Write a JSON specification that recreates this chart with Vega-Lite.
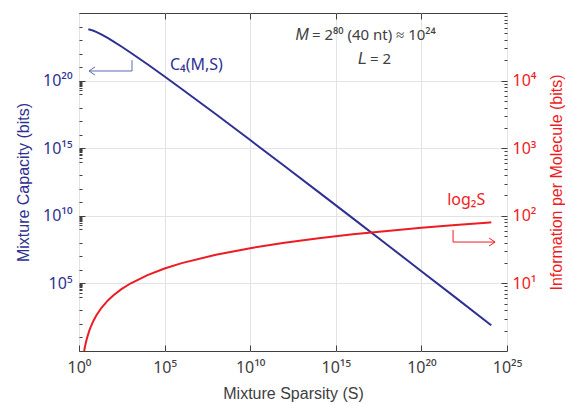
{
  "$schema": "https://vega.github.io/schema/vega-lite/v6.json",
  "width": 428,
  "height": 338,
  "autosize": "none",
  "padding": {"left": 79, "top": 13, "right": 59, "bottom": 52},
  "background": "white",
  "config": {
    "font": "Liberation Sans",
    "view": {"stroke": "#404040", "strokeWidth": 1},
    "axis": {
      "domain": false,
      "labelFont": "Noto Sans",
      "titleFont": "Liberation Sans",
      "labelFontSize": 16,
      "titleFontSize": 16,
      "titleFontWeight": "normal",
      "tickColor": "#404040",
      "gridColor": "#e3e3e3",
      "labelOverlap": false,
      "labelFlush": false,
      "labelBound": false
    }
  },
  "datasets": {
    "cap": [
      {"S": 3.5, "C": 6.243e23},
      {"S": 4, "C": 6.0445e23},
      {"S": 5, "C": 5.614e23},
      {"S": 7, "C": 4.848e23},
      {"S": 10, "C": 4.016e23},
      {"S": 20, "C": 2.612e23},
      {"S": 50, "C": 1.3646e23},
      {"S": 100, "C": 8.032e22},
      {"S": 300, "C": 3.316e22},
      {"S": 1000, "C": 1.2048e22},
      {"S": 1e4, "C": 1.6064e21},
      {"S": 1e5, "C": 2.008e20},
      {"S": 1e6, "C": 2.4095e19},
      {"S": 1e8, "C": 3.2127e17},
      {"S": 1e10, "C": 4.0159e15},
      {"S": 1e12, "C": 4.819e13},
      {"S": 1e14, "C": 5.622e11},
      {"S": 1e16, "C": 6.4255e9},
      {"S": 1e18, "C": 7.2286e7},
      {"S": 1e20, "C": 8.032e5},
      {"S": 1e22, "C": 8834.9},
      {"S": 1e24, "C": 96.38},
      {"S": 1.2089e24, "C": 80}
    ],
    "info": [
      {"S": 2, "I": 1},
      {"S": 2.2, "I": 1.1375},
      {"S": 2.5, "I": 1.3219},
      {"S": 3, "I": 1.585},
      {"S": 4, "I": 2},
      {"S": 5, "I": 2.3219},
      {"S": 7, "I": 2.8074},
      {"S": 10, "I": 3.3219},
      {"S": 20, "I": 4.3219},
      {"S": 50, "I": 5.6439},
      {"S": 100, "I": 6.6439},
      {"S": 300, "I": 8.2288},
      {"S": 1000, "I": 9.9658},
      {"S": 1e4, "I": 13.2877},
      {"S": 1e5, "I": 16.6096},
      {"S": 1e6, "I": 19.9316},
      {"S": 1e8, "I": 26.575},
      {"S": 1e10, "I": 33.219},
      {"S": 1e12, "I": 39.863},
      {"S": 1e14, "I": 46.507},
      {"S": 1e16, "I": 53.151},
      {"S": 1e18, "I": 59.795},
      {"S": 1e20, "I": 66.439},
      {"S": 1e22, "I": 73.082},
      {"S": 1e24, "I": 79.726},
      {"S": 1.2089e24, "I": 80}
    ],
    "arrowL": [
      {"seg": "a", "o": 1, "S": 3.837, "C": 5.13e20},
      {"seg": "a", "o": 2, "S": 1247, "C": 5.13e20},
      {"seg": "a", "o": 3, "S": 1247, "C": 3.31e21},
      {"seg": "b", "o": 1, "S": 8.61, "C": 1.023e21},
      {"seg": "b", "o": 2, "S": 3.837, "C": 5.13e20},
      {"seg": "b", "o": 3, "S": 8.61, "C": 2.57e20}
    ],
    "arrowR": [
      {"seg": "a", "o": 1, "S": 7.08e21, "I": 61.6},
      {"seg": "a", "o": 2, "S": 7.08e21, "I": 40.9},
      {"seg": "a", "o": 3, "S": 2.0e24, "I": 40.9},
      {"seg": "b", "o": 1, "S": 8.91e23, "I": 46.9},
      {"seg": "b", "o": 2, "S": 2.0e24, "I": 40.9},
      {"seg": "b", "o": 3, "S": 8.91e23, "I": 35.7}
    ],
    "textL": [
      {"S": 2.07e5, "C": 6e20, "label": "C₄(M,S)"}
    ],
    "paramNorm": [
      {"S": 4.05e13, "C": 1e23, "label": "\u00a0= 2⁸⁰ (40 nt) ≈ 10²⁴"},
      {"S": 9.9e16, "C": 1.7e21, "label": "\u00a0= 2"}
    ],
    "paramItal": [
      {"S": 2.7e13, "C": 1e23, "label": "M"},
      {"S": 6.6e16, "C": 1.7e21, "label": "L"}
    ],
    "textR": [
      {"S": 3.2e21, "I": 144.5, "label": "log₂S"}
    ]
  },
  "resolve": {"scale": {"y": "independent"}, "axis": {"x": "independent", "y": "independent"}},
  "layer": [
    {
      "layer": [
        {
          "data": {"name": "cap"},
          "mark": {"type": "line", "color": "#2e3192", "strokeWidth": 2, "clip": true},
          "encoding": {
            "x": {
              "field": "S", "type": "quantitative",
              "scale": {"type": "log", "domain": [1, 1e25], "nice": false},
              "axis": {
                "orient": "bottom",
                "title": "Mixture Sparsity (S)",
                "titleColor": "#404040",
                "titlePadding": 10,
                "labelColor": "#404040",
                "values": [1, 1e5, 1e10, 1e15, 1e20, 1e25],
                "labelExpr": "['10⁰','10⁵','10¹⁰','10¹⁵','10²⁰','10²⁵'][round(log(datum.value)/LN10/5)]",
                "tickSize": -6,
                "labelPadding": 14,
                "grid": true
              }
            },
            "y": {
              "field": "C", "type": "quantitative",
              "scale": {"type": "log", "domain": [1, 1e25], "nice": false},
              "axis": {
                "orient": "left",
                "title": "Mixture Capacity (bits)",
                "titleColor": "#2e3192",
                "labelColor": "#2e3192",
                "titlePadding": 11,
                "values": [1, 10, 100, 1000, 1e4, 2e4, 3e4, 4e4, 5e4, 6e4, 7e4, 8e4, 9e4, 1e5, 1e6, 1e7, 1e8, 1e9, 2e9, 3e9, 4e9, 5e9, 6e9, 7e9, 8e9, 9e9, 1e10, 1e11, 1e12, 1e13, 1e14, 2e14, 3e14, 4e14, 5e14, 6e14, 7e14, 8e14, 9e14, 1e15, 1e16, 1e17, 1e18, 1e19, 2e19, 3e19, 4e19, 5e19, 6e19, 7e19, 8e19, 9e19, 1e20, 1e21, 1e22, 1e23, 1e24, 1e25],
                "labelExpr": "indexof([1e5,1e10,1e15,1e20], datum.value) >= 0 ? ['10⁵','10¹⁰','10¹⁵','10²⁰'][indexof([1e5,1e10,1e15,1e20], datum.value)] : ''",
                "tickSize": {"condition": {"test": "indexof([1e5,1e10,1e15,1e20], datum.value) >= 0", "value": -6}, "value": -3},
                "labelPadding": 13,
                "grid": true,
                "gridOpacity": {"condition": {"test": "indexof([1e5,1e10,1e15,1e20], datum.value) >= 0", "value": 1}, "value": 0}
              }
            }
          }
        },
        {
          "data": {"name": "arrowL"},
          "mark": {"type": "line", "color": "#5b6bb0", "strokeWidth": 1},
          "encoding": {
            "x": {"field": "S", "type": "quantitative"},
            "y": {"field": "C", "type": "quantitative"},
            "detail": {"field": "seg"},
            "order": {"field": "o"}
          }
        },
        {
          "data": {"name": "textL"},
          "mark": {"type": "text", "color": "#2e3192", "fontSize": 16, "align": "left", "baseline": "alphabetic", "font": "Noto Sans"},
          "encoding": {
            "x": {"field": "S", "type": "quantitative"},
            "y": {"field": "C", "type": "quantitative"},
            "text": {"field": "label"}
          }
        },
        {
          "data": {"name": "paramNorm"},
          "mark": {"type": "text", "color": "#404040", "fontSize": 15, "align": "left", "baseline": "alphabetic", "font": "Noto Sans"},
          "encoding": {
            "x": {"field": "S", "type": "quantitative"},
            "y": {"field": "C", "type": "quantitative"},
            "text": {"field": "label"}
          }
        },
        {
          "data": {"name": "paramItal"},
          "mark": {"type": "text", "color": "#404040", "fontSize": 16, "align": "right", "baseline": "alphabetic", "fontStyle": "italic", "font": "Liberation Sans"},
          "encoding": {
            "x": {"field": "S", "type": "quantitative"},
            "y": {"field": "C", "type": "quantitative"},
            "text": {"field": "label"}
          }
        }
      ]
    },
    {
      "layer": [
        {
          "data": {"name": "info"},
          "mark": {"type": "line", "color": "#ed1c24", "strokeWidth": 2, "clip": true},
          "encoding": {
            "x": {
              "field": "S", "type": "quantitative",
              "scale": {"type": "log", "domain": [1, 1e25], "nice": false},
              "axis": {
                "orient": "top",
                "title": null,
                "labels": false,
                "values": [1e5, 1e10, 1e15, 1e20],
                "tickSize": -6,
                "grid": false
              }
            },
            "y": {
              "field": "I", "type": "quantitative",
              "scale": {"type": "log", "domain": [1, 1e5], "nice": false},
              "axis": {
                "orient": "right",
                "title": "Information per Molecule (bits)",
                "titleColor": "#ed1c24",
                "labelColor": "#ed1c24",
                "titleAngle": 270,
                "titlePadding": 29,
                "values": [2, 3, 4, 5, 6, 7, 8, 9, 10, 20, 30, 40, 50, 60, 70, 80, 90, 100, 200, 300, 400, 500, 600, 700, 800, 900, 1000, 2000, 3000, 4000, 5000, 6000, 7000, 8000, 9000, 10000, 20000, 30000, 40000, 50000, 60000, 70000, 80000, 90000],
                "labelExpr": "indexof([10,100,1000,10000], datum.value) >= 0 ? ['10¹','10²','10³','10⁴'][indexof([10,100,1000,10000], datum.value)] : ''",
                "tickSize": {"condition": {"test": "indexof([10,100,1000,10000], datum.value) >= 0", "value": -6}, "value": -3},
                "labelPadding": 11,
                "grid": false
              }
            }
          }
        },
        {
          "data": {"name": "arrowR"},
          "mark": {"type": "line", "color": "#ed1c24", "strokeWidth": 1},
          "encoding": {
            "x": {"field": "S", "type": "quantitative"},
            "y": {"field": "I", "type": "quantitative"},
            "detail": {"field": "seg"},
            "order": {"field": "o"}
          }
        },
        {
          "data": {"name": "textR"},
          "mark": {"type": "text", "color": "#ed1c24", "fontSize": 16, "align": "left", "baseline": "alphabetic", "font": "Noto Sans"},
          "encoding": {
            "x": {"field": "S", "type": "quantitative"},
            "y": {"field": "I", "type": "quantitative"},
            "text": {"field": "label"}
          }
        }
      ]
    }
  ]
}
